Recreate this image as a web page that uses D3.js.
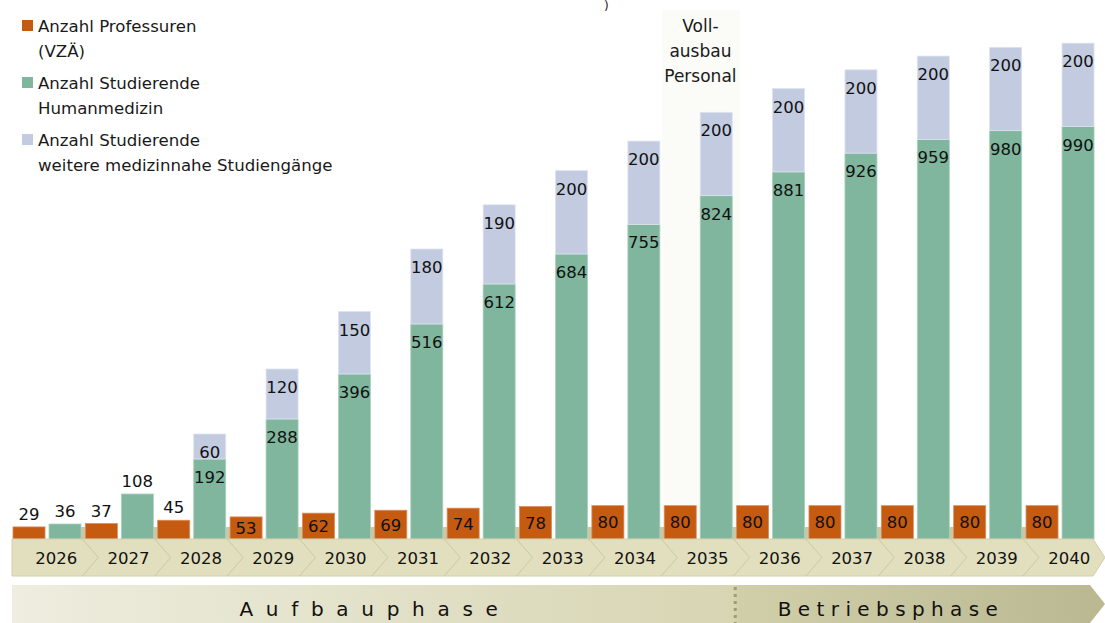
<!DOCTYPE html>
<html>
<head>
<meta charset="utf-8">
<script src="https://cdn.jsdelivr.net/npm/d3@7"></script>
<style>
  body { margin: 0; background: #fff; }
  svg { display: block; font-family: "DejaVu Sans", sans-serif; }
</style>
</head>
<body>
<script>
// data
const years      = [2026, 2027, 2028, 2029, 2030, 2031, 2032, 2033, 2034, 2035, 2036, 2037, 2038, 2039, 2040];
const professuren = [29, 37, 45, 53, 62, 69, 74, 78, 80, 80, 80, 80, 80, 80, 80];
const humanmedizin = [36, 108, 192, 288, 396, 516, 612, 684, 755, 824, 881, 926, 959, 980, 990];
const weitere     = [0, 0, 60, 120, 150, 180, 190, 200, 200, 200, 200, 200, 200, 200, 200];
const legendLabels = [
  ["Anzahl Professuren", "(VZÄ)"],
  ["Anzahl Studierende", "Humanmedizin"],
  ["Anzahl Studierende", "weitere medizinnahe Studiengänge"]
];
const highlightYear = 2035;
const highlightLabel = ["Voll-", "ausbau", "Personal"];
const phases = [
  {name: "Aufbauphase",   from: 2026, to: 2034},
  {name: "Betriebsphase", from: 2035, to: 2040}
];

const colors = {prof: "#c55a11", hm: "#7fb69d", weitere: "#c2cbe0"};
const width = 1105, height = 623;
const base = 539;

const data = years.map((y, i) => ({year: y, prof: professuren[i], hm: humanmedizin[i], weitere: weitere[i]}));

const svg = d3.select("body")
  .append("svg")
  .attr("width", width)
  .attr("height", height);

const x = d3.scaleBand()
  .domain(years)
  .range([12, 12 + 15 * 72.36])
  .padding(0);

const x1 = d3.scaleBand()
  .domain(["prof", "stud"])
  .range([1, 69])
  .paddingInner(0.111);

const y = d3.scaleLinear()
  .domain([0, 1200])
  .range([base, 39]);

// faint column behind "Vollausbau Personal"
svg.append("rect")
  .attr("x", x(highlightYear) - 1)
  .attr("y", 10)
  .attr("width", x.bandwidth() + 5)
  .attr("height", base - 10)
  .style("fill", "#fbfbf7");

svg.append("g")
  .selectAll("text")
  .data(highlightLabel)
  .join("text")
    .attr("x", x(highlightYear) + x.bandwidth() / 2 + 1)
    .attr("y", (d, i) => 32 + i * 25)
    .attr("text-anchor", "middle")
    .style("font-size", "17px")
    .style("fill", "#1a1a1a")
    .text(d => d);

// remnant of the title above the crop
svg.append("text")
  .attr("x", 604).attr("y", 10)
  .style("font-size", "12px")
  .style("fill", "#1a1a1a")
  .text(")");

// khaki bits between year groups, behind the bars
svg.append("g")
  .selectAll("rect")
  .data(years.slice(1))
  .join("rect")
    .attr("x", d => x(d) - 3.5)
    .attr("y", base - 12)
    .attr("width", 5)
    .attr("height", 12)
    .style("fill", "#cac8a4");

// bars
const groups = svg.append("g")
  .selectAll("g")
  .data(data)
  .join("g")
    .attr("transform", d => `translate(${x(d.year)},0)`);

groups.append("rect")
  .attr("x", x1("prof"))
  .attr("y", d => y(d.prof))
  .attr("width", x1.bandwidth())
  .attr("height", d => base - y(d.prof))
  .style("fill", colors.prof)
  .style("stroke", "#d98c5c")
  .style("stroke-width", 0.8);

groups.append("rect")
  .attr("x", x1("stud"))
  .attr("y", d => y(d.hm))
  .attr("width", x1.bandwidth())
  .attr("height", d => base - y(d.hm))
  .style("fill", colors.hm)
  .style("stroke", "#a9d0bd")
  .style("stroke-width", 0.8);

groups.filter(d => d.weitere > 0)
  .append("rect")
  .attr("x", x1("stud"))
  .attr("y", d => y(d.hm + d.weitere))
  .attr("width", x1.bandwidth())
  .attr("height", d => y(d.hm) - y(d.hm + d.weitere))
  .style("fill", colors.weitere)
  .style("stroke", "#dde3ef")
  .style("stroke-width", 0.8);

// value labels
const labelStyle = sel => sel
  .attr("text-anchor", "middle")
  .style("font-size", "16.5px")
  .style("fill", "#111");

groups.append("text")
  .call(labelStyle)
  .attr("x", x1("prof") + x1.bandwidth() / 2)
  .attr("y", d => d.prof < 50 ? y(d.prof) - 7 : (y(d.prof) + base) / 2 + 6)
  .text(d => d.prof);

groups.append("text")
  .call(labelStyle)
  .attr("x", x1("stud") + x1.bandwidth() / 2)
  .attr("y", d => d.hm < 150 ? y(d.hm) - 7 : y(d.hm) + 24)
  .text(d => d.hm);

groups.filter(d => d.weitere > 0)
  .append("text")
  .call(labelStyle)
  .attr("x", x1("stud") + x1.bandwidth() / 2)
  .attr("y", d => y(d.hm + d.weitere) + 24)
  .text(d => d.weitere);

// year band with chevrons
const bandTop = 539, bandBot = 576, bandMid = (bandTop + bandBot) / 2;
svg.append("path")
  .attr("d", `M12,${bandTop} H1093 L1105,${bandMid} L1093,${bandBot} H12 Z`)
  .style("fill", "#e1dfbe")
  .style("stroke", "#d2cfac")
  .style("stroke-width", 1);

svg.append("g")
  .selectAll("path")
  .data(years.slice(1))
  .join("path")
    .attr("d", d => `M${x(d) - 2},${bandTop} L${x(d) + 14},${bandMid} L${x(d) - 2},${bandBot}`)
    .style("fill", "none")
    .style("stroke", "#cbc8a3")
    .style("stroke-width", 1);

svg.append("g")
  .selectAll("text")
  .data(years)
  .join("text")
    .attr("x", d => x(d) + x.bandwidth() / 2 + 8)
    .attr("y", bandMid + 6)
    .attr("text-anchor", "middle")
    .style("font-size", "16.5px")
    .style("fill", "#111")
    .text(d => d);

// phase band
const defs = svg.append("defs");
const grad = defs.append("linearGradient")
  .attr("id", "phaseGrad")
  .attr("gradientUnits", "userSpaceOnUse")
  .attr("x1", 12).attr("x2", 1105).attr("y1", 0).attr("y2", 0);
grad.append("stop").attr("offset", 0).attr("stop-color", "#eeeddf");
grad.append("stop").attr("offset", 0.66).attr("stop-color", "#d7d5b2");
grad.append("stop").attr("offset", 0.665).attr("stop-color", "#d1cfaa");
grad.append("stop").attr("offset", 1).attr("stop-color", "#bab891");

const pTop = 585, pBot = 623, pMid = 604;
svg.append("path")
  .attr("d", `M12,${pTop} H1090 L1105,${pMid} L1090,${pBot} H12 Z`)
  .style("fill", "url(#phaseGrad)");

const divX = x(phases[1].from) + 72;
svg.append("line")
  .attr("x1", divX).attr("x2", divX)
  .attr("y1", pTop + 2).attr("y2", pBot)
  .style("stroke", "#9f9c74")
  .style("stroke-width", 3)
  .style("stroke-dasharray", "3,4");

svg.append("text")
  .attr("x", 375)
  .attr("y", 616)
  .attr("text-anchor", "middle")
  .style("font-size", "20px")
  .style("letter-spacing", "12.7px")
  .style("fill", "#111")
  .text(phases[0].name);

svg.append("text")
  .attr("x", 891)
  .attr("y", 616)
  .attr("text-anchor", "middle")
  .style("font-size", "20px")
  .style("letter-spacing", "6.4px")
  .style("fill", "#111")
  .text(phases[1].name);

// legend
const legend = svg.append("g")
  .selectAll("g")
  .data(legendLabels)
  .join("g")
    .attr("transform", (d, i) => `translate(0, ${32 + i * 57})`);

legend.append("rect")
  .attr("x", 22).attr("y", -12)
  .attr("width", 11).attr("height", 11)
  .style("fill", (d, i) => [colors.prof, colors.hm, colors.weitere][i]);

legend.selectAll("text")
  .data(d => d)
  .join("text")
    .attr("x", 38)
    .attr("y", (d, i) => i * 24.5)
    .style("font-size", "16.6px")
    .style("fill", "#1a1a1a")
    .text(d => d);
</script>
</body>
</html>
